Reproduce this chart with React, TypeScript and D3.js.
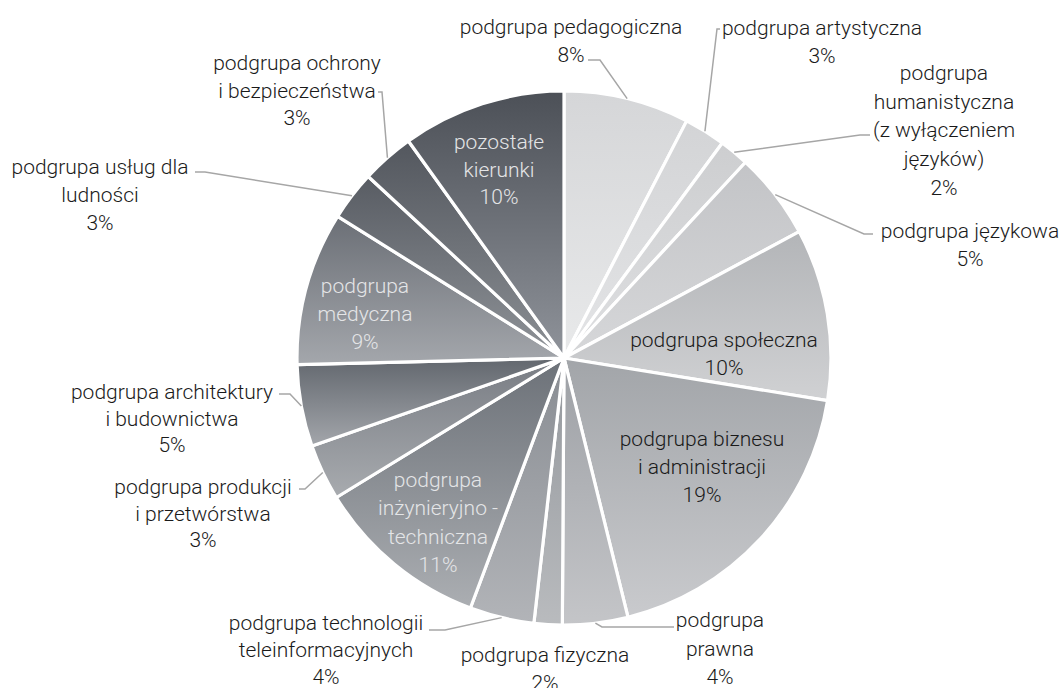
import React from "react";
import * as d3 from "d3";

// ---- data ----
const categories: string[] = [
  "podgrupa pedagogiczna",
  "podgrupa artystyczna",
  "podgrupa\nhumanistyczna\n(z wyłączeniem\njęzyków)",
  "podgrupa językowa",
  "podgrupa społeczna",
  "podgrupa biznesu\ni administracji",
  "podgrupa\nprawna",
  "podgrupa fizyczna",
  "podgrupa technologii\nteleinformacyjnych",
  "podgrupa\ninżynieryjno -\ntechniczna",
  "podgrupa produkcji\ni przetwórstwa",
  "podgrupa architektury\ni budownictwa",
  "podgrupa\nmedyczna",
  "podgrupa usług dla\nludności",
  "podgrupa ochrony\ni bezpieczeństwa",
  "pozostałe\nkierunki",
];
const values: number[] = [7.6, 2.5, 1.8, 5.25, 10.4, 18.6, 3.95, 1.7, 3.9, 10.55, 3.4, 4.95, 9.3, 3.0, 3.2, 9.9];

// ---- styles ----
const topColors = [
  "#d5d6d8", "#d3d4d6", "#cdced0", "#c3c4c7", "#b3b5b8", "#a2a5a9", "#9da0a5", "#93979c",
  "#888c92", "#6c7178", "#787c83", "#62676e", "#6b6f76", "#585c63", "#53575e", "#4c5057",
];
const bottomColors = [
  "#e8e9ea", "#e3e4e6", "#dedfe1", "#d6d7d9", "#d0d1d3", "#c9cacd", "#c4c5c8", "#b9bbbe",
  "#b2b4b8", "#abaeb2", "#a8abaf", "#a3a6ab", "#a4a7ac", "#8f9398", "#8b8f94", "#8f939a",
];

// label layout: x, first-line y, line height, light text?, leader points (from text side)
const labelLayout: { x: number; y: number; lh: number; light?: boolean; leader?: [number, number][] }[] = [
  { x: 571, y: 27, lh: 28, leader: [[588, 60], [600, 60]] },
  { x: 822, y: 28, lh: 28, leader: [[720, 29], [717, 29]] },
  { x: 944, y: 73, lh: 28.7, leader: [[870, 135], [860, 135]] },
  { x: 970, y: 231, lh: 28, leader: [[873, 234], [864, 234]] },
  { x: 724, y: 340, lh: 28 },
  { x: 702, y: 439, lh: 28.2 },
  { x: 720, y: 620, lh: 28.5, leader: [[674, 627], [602, 627]] },
  { x: 545, y: 655, lh: 28 },
  { x: 326, y: 623, lh: 27, leader: [[429, 630], [445, 630]] },
  { x: 438, y: 480, lh: 28.3, light: true },
  { x: 203, y: 487, lh: 26.5, leader: [[299, 489], [305, 489]] },
  { x: 172, y: 392, lh: 26.5, leader: [[279, 394], [290, 394]] },
  { x: 365, y: 286, lh: 28, light: true },
  { x: 100, y: 167, lh: 28, leader: [[195, 172], [205, 172]] },
  { x: 297, y: 63, lh: 27.5, leader: [[378, 92], [382, 92]] },
  { x: 499, y: 142, lh: 27.5, light: true },
];

const W = 1062;
const H = 688;
const cx = 564;
const cy = 358;
const R = 267;

export default function App() {
  const total = d3.sum(values);
  const pie = d3.pie<number>().sort(null).value((d) => d)(values);
  const arc = d3.arc<d3.PieArcDatum<number>>().innerRadius(0).outerRadius(R);
  const edge = (a: number): [number, number] => [cx + R * Math.sin(a), cy - R * Math.cos(a)];
  const line = d3.line();

  return (
    <svg
      width={W}
      height={H}
      style={{ position: "absolute", left: 0, top: 0, background: "#fff" }}
      fontFamily="Roboto, 'Noto Sans', sans-serif"
    >
      <defs>
        {values.map((_, i) => (
          <linearGradient key={i} id={`g${i}`} x1="0" y1="0" x2="0" y2="1">
            <stop offset="0" stopColor={topColors[i]} />
            <stop offset="1" stopColor={bottomColors[i]} />
          </linearGradient>
        ))}
      </defs>
      <g transform={`translate(${cx},${cy})`}>
        {pie.map((p, i) => (
          <path key={i} d={arc(p) || ""} fill={`url(#g${i})`} stroke="#fff" strokeWidth={3.2} strokeLinejoin="round" />
        ))}
      </g>
      {pie.map((p, i) => {
        const L = labelLayout[i];
        if (!L.leader) return null;
        const mid = (p.startAngle + p.endAngle) / 2;
        const pts: [number, number][] = [...L.leader, edge(mid)];
        return <path key={i} d={line(pts) || ""} fill="none" stroke="#a6a6a6" strokeWidth={1.5} />;
      })}
      {pie.map((p, i) => {
        const L = labelLayout[i];
        const lines = [...categories[i].split("\n"), `${Math.round((p.value / total) * 100)}%`];
        return (
          <text
            key={i}
            x={L.x}
            y={L.y}
            textAnchor="middle"
            fontSize={21}
            fontWeight={300}
            fill={L.light ? "#e4e5e7" : "#1a1a1a"}
          >
            {lines.map((t, j) => (
              <tspan key={j} x={L.x} y={L.y + j * L.lh} dominantBaseline="central">
                {t}
              </tspan>
            ))}
          </text>
        );
      })}
    </svg>
  );
}
